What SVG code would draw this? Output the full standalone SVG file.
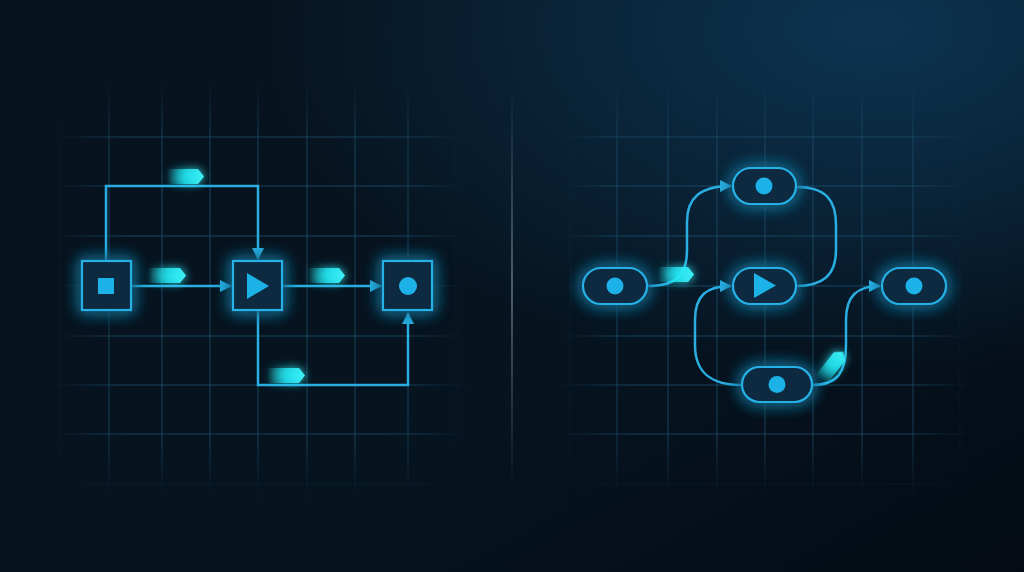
<svg xmlns="http://www.w3.org/2000/svg" width="1024" height="572" viewBox="0 0 1024 572">
<defs>
<linearGradient id="bg" x1="0" y1="0" x2="1" y2="1">
<stop offset="0" stop-color="#07131e"/>
<stop offset="0.6" stop-color="#061420"/>
<stop offset="1" stop-color="#040b14"/>
</linearGradient>
<radialGradient id="glowTR" cx="0.85" cy="0.05" r="0.6">
<stop offset="0" stop-color="#0e3756" stop-opacity="0.9"/>
<stop offset="1" stop-color="#0e3756" stop-opacity="0"/>
</radialGradient>
<filter id="soft" x="-30%" y="-30%" width="160%" height="160%"><feGaussianBlur stdDeviation="22"/></filter>
<mask id="mL" maskUnits="userSpaceOnUse" x="0" y="0" width="1024" height="572"><rect x="85" y="110" width="350" height="355" fill="#fff" filter="url(#soft)"/></mask>
<mask id="mR" maskUnits="userSpaceOnUse" x="0" y="0" width="1024" height="572"><rect x="590" y="110" width="350" height="355" fill="#fff" filter="url(#soft)"/></mask>
<linearGradient id="div" gradientUnits="userSpaceOnUse" x1="0" y1="85" x2="0" y2="490">
<stop offset="0" stop-color="#8fb0c4" stop-opacity="0"/>
<stop offset="0.5" stop-color="#8fb0c4" stop-opacity="0.75"/>
<stop offset="1" stop-color="#8fb0c4" stop-opacity="0"/>
</linearGradient>
<linearGradient id="tag" x1="0" y1="0" x2="1" y2="0">
<stop offset="0" stop-color="#22e6f2" stop-opacity="0"/>
<stop offset="0.5" stop-color="#22e6f2" stop-opacity="0.8"/>
<stop offset="1" stop-color="#3ff2fa" stop-opacity="1"/>
</linearGradient>
<filter id="glow" x="-80%" y="-80%" width="260%" height="260%">
<feGaussianBlur in="SourceGraphic" stdDeviation="8" result="b"/>
<feMerge><feMergeNode in="b"/><feMergeNode in="b"/><feMergeNode in="SourceGraphic"/></feMerge>
</filter>
<filter id="tglow" x="-80%" y="-150%" width="260%" height="400%">
<feGaussianBlur in="SourceGraphic" stdDeviation="5" result="b"/>
<feMerge><feMergeNode in="b"/><feMergeNode in="SourceGraphic"/></feMerge>
</filter>
<marker id="arr" viewBox="0 0 12 12" refX="11" refY="6" markerWidth="12" markerHeight="12" markerUnits="userSpaceOnUse" orient="auto">
<path d="M0,0 L12,6 L0,12 z" fill="#2aaee2"/>
</marker>
<style>
.grid line{stroke:#1f5070;stroke-width:1;opacity:0.8}
.box{fill:#0b2a40;stroke:#25b0e6;stroke-width:2.2}
.icon{fill:#1cb2e8}
.con{fill:none;stroke:#2aaee2;stroke-width:2.5}
</style>
</defs>
<rect width="1024" height="572" fill="url(#bg)"/>
<rect width="1024" height="572" fill="url(#glowTR)"/>

<g class="grid" mask="url(#mL)">
<line x1="60" y1="80" x2="60" y2="500"/><line x1="109" y1="80" x2="109" y2="500"/><line x1="162" y1="80" x2="162" y2="500"/><line x1="210" y1="80" x2="210" y2="500"/><line x1="258" y1="80" x2="258" y2="500"/><line x1="307" y1="80" x2="307" y2="500"/><line x1="355" y1="80" x2="355" y2="500"/><line x1="408" y1="80" x2="408" y2="500"/><line x1="456" y1="80" x2="456" y2="500"/>
<line x1="50" y1="137" x2="470" y2="137"/><line x1="50" y1="186" x2="470" y2="186"/><line x1="50" y1="236" x2="470" y2="236"/><line x1="50" y1="286" x2="470" y2="286"/><line x1="50" y1="336" x2="470" y2="336"/><line x1="50" y1="385" x2="470" y2="385"/><line x1="50" y1="434" x2="470" y2="434"/><line x1="50" y1="484" x2="470" y2="484"/>
</g>
<g class="grid" mask="url(#mR)">
<line x1="570" y1="80" x2="570" y2="500"/><line x1="617" y1="80" x2="617" y2="500"/><line x1="668" y1="80" x2="668" y2="500"/><line x1="717" y1="80" x2="717" y2="500"/><line x1="765" y1="80" x2="765" y2="500"/><line x1="813" y1="80" x2="813" y2="500"/><line x1="862" y1="80" x2="862" y2="500"/><line x1="913" y1="80" x2="913" y2="500"/><line x1="960" y1="80" x2="960" y2="500"/>
<line x1="560" y1="137" x2="970" y2="137"/><line x1="560" y1="186" x2="970" y2="186"/><line x1="560" y1="236" x2="970" y2="236"/><line x1="560" y1="286" x2="970" y2="286"/><line x1="560" y1="336" x2="970" y2="336"/><line x1="560" y1="385" x2="970" y2="385"/><line x1="560" y1="434" x2="970" y2="434"/><line x1="560" y1="484" x2="970" y2="484"/>
</g>
<line x1="512" y1="85" x2="512" y2="490" stroke="url(#div)" stroke-width="1.3"/>

<g id="connectors">
<path class="con" d="M106,261 V186 H258 V259" marker-end="url(#arr)"/>
<path class="con" d="M131,286 H231" marker-end="url(#arr)"/>
<path class="con" d="M283,286 H381" marker-end="url(#arr)"/>
<path class="con" d="M258,311 V385 H408 V313" marker-end="url(#arr)"/>
<path class="con" d="M647,286 C676,286 687,276 687,250 L687,222 C687,198 700,186 731,186" marker-end="url(#arr)"/>
<path class="con" d="M796,187 C826,187 836,200 836,225 L836,250 C836,276 822,286 796,286"/>
<path class="con" d="M742,385 C710,385 695,372 695,345 L695,320 C695,296 706,286 731,286" marker-end="url(#arr)"/>
<path class="con" d="M812,385 C838,385 846,372 846,345 L846,320 C846,296 857,286 880,286" marker-end="url(#arr)"/>
</g>

<g id="tags" fill="url(#tag)" filter="url(#tglow)">
<path d="M167,169 H198 L204,176.5 L198,184 H167 Z"/>
<path d="M148,268 H180 L186,275.5 L180,283 H148 Z"/>
<path d="M308,268 H339 L345,275.5 L339,283 H308 Z"/>
<path d="M267,368 H299 L305,375.5 L299,383 H267 Z"/>
<path d="M658,267 H688 L694,274.5 L688,282 H658 Z"/>
<path transform="translate(832,366) rotate(-52)" d="M-18,-7 H12 L18,0 L12,7 H-18 Z"/>
</g>

<g id="n1" filter="url(#glow)"><rect class="box" x="82" y="261" width="49" height="49"/><rect class="icon" x="98" y="278" width="16" height="16"/></g>
<g id="n2" filter="url(#glow)"><rect class="box" x="233" y="261" width="49" height="49"/><path class="icon" d="M247,273 L269,286 L247,299 Z"/></g>
<g id="n3" filter="url(#glow)"><rect class="box" x="383" y="261" width="49" height="49"/><circle class="icon" cx="408" cy="286" r="9"/></g>

<g id="p1" filter="url(#glow)"><rect class="box" x="583" y="268" width="64" height="36" rx="18"/><circle class="icon" cx="615" cy="286" r="8.5"/></g>
<g id="p2" filter="url(#glow)"><rect class="box" x="733" y="168" width="63" height="36" rx="18"/><circle class="icon" cx="764" cy="186" r="8.5"/></g>
<g id="p3" filter="url(#glow)"><rect class="box" x="733" y="268" width="63" height="36" rx="18"/><path class="icon" d="M754,273 L776,285.5 L754,298 Z"/></g>
<g id="p4" filter="url(#glow)"><rect class="box" x="882" y="268" width="64" height="36" rx="18"/><circle class="icon" cx="914" cy="286" r="8.5"/></g>
<g id="p5" filter="url(#glow)"><rect class="box" x="742" y="367" width="70" height="35" rx="17.5"/><circle class="icon" cx="777" cy="384.5" r="8.5"/></g>
</svg>
